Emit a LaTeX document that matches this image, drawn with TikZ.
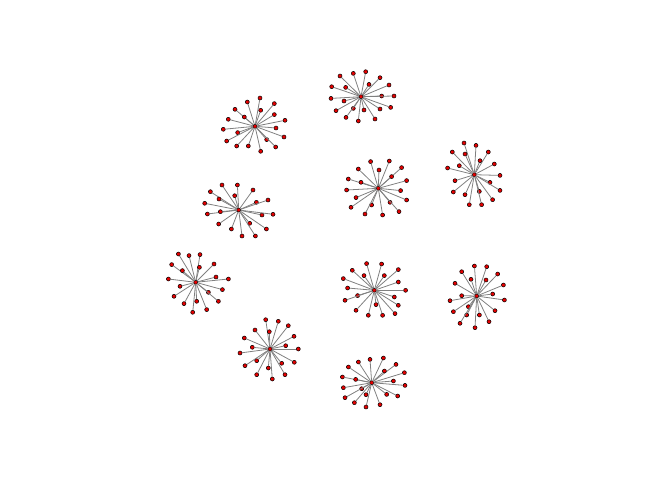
\documentclass[tikz,border=0pt]{standalone}
\usepackage{tikz}

\begin{document}
\begin{tikzpicture}[x=1pt,y=-1pt,v/.style={circle,draw=black,fill=red!90!black,line width=0.5pt,inner sep=0pt,minimum size=4pt},e/.style={draw=black!50,line width=0.8pt}]
\useasboundingbox (0,0) rectangle (672,480);
\foreach \n/\cx/\cy/\offs in {
 s1/361/96.7/{-21/-20.7,-7.7/-23.3,4.7/-25,19/-19,-29.3/-10,-15.3/-9.3,8/-12.3,28/-11.7,-30/1.7,-17/4.3,20.7/-0.7,33/-0.7,-25/14,-7.7/11.7,3/13.3,19/12.3,29.7/10.7,-15/20.7,-2.7/24.3,14/22.3},
 s2/255/126.3/{-7.7/-24.3,5/-28.3,19.3/-22.7,-20/-17,5.7/-16,19.3/-11.7,-10.7/-9.3,-26.7/-7,30/-6,-31.7/3,-17.3/6.3,21/1.7,29/10.7,-28.3/14.7,11.7/13.3,-18.3/19.7,-6.7/19.7,20.7/20.7,5.7/25},
 s3/474.3/174.7/{-10.3/-31.7,1.7/-29.3,-22/-22.7,-9.3/-20.7,14/-22.7,5.7/-14,20/-10.7,-26.7/-6.7,-15/-9,25.7/0.7,-19.3/6,15.7/7.7,25.7/15.7,-21/17.3,-9.3/20,5/16.7,18.3/25,-5/30,7.3/30},
 s4/378.3/188.3/{-7.7/-26.7,11/-27.3,-20/-19.3,0.7/-18.3,23.3/-20.7,13.3/-11.7,-30/-9.3,-17.3/-6,28.3/-7.7,-31.7/1.7,22.3/2.3,-22.3/9.3,28.3/11.7,-27.3/19,-6.7/16.7,11.7/14,20.7/23.3,-13.3/25.7,4.3/26.7},
 s5/238.7/210/{-16.7/-25,-1.3/-25,-28.3/-18.3,-19.7/-11,-4/-14.3,14.3/-20,-34/-6.7,17.7/-7.7,29.3/-10,-31.3/4,-18.3/1.7,23.3/5,34.3/4.3,-20/14,11/13.3,27.7/19,-7.3/19,3.3/26,16.7/26},
 s6/195.7/282.3/{-17.3/-28.3,-6.7/-26.7,4.3/-27.7,-24/-17.7,3.7/-15,18.3/-18.3,-13.3/-11.7,-27.3/-3.3,20.3/-5.3,32.7/-3.3,-15.7/4,26.7/7.3,12.7/10,-21.7/14,1/19,22.7/19,-11.7/21.3,11/27.3,-3/30},
 s7/374.3/290.3/{-7.7/-26.7,7.3/-26.3,-22/-20,-10.3/-14.7,10/-14.7,24/-20.7,-31/-11.7,24/-8.3,-26.7/-2.3,31.3/0,-16.7/5.3,20/6.7,-29.3/10,1.7/14.3,24/15,-18.3/20,-6/25,8.3/25,20.7/23.3},
 s8/476.7/296/{-2.3/-30,10/-29.3,-15/-24.3,21/-22,-5.7/-16.7,9.3/-16,-21.7/-12.7,26.7/-11,-15/-0.3,16/-2,-26.7/4.7,27.7/4,-8.3/10.7,18.3/14.7,-23.3/15.7,2.7/19,-10/19,-16.7/27.3,-1.7/31.7,12.3/25.7},
 s9/270/349/{-4.3/-29.3,8.3/-27.7,18.3/-23.3,-15/-19,-0.7/-17.3,24/-12.7,-25.7/-11,-17.7/-1.7,15.7/-3.3,28.3/0,-30/4,-13.3/11.7,24.3/13.3,-25/16.7,-1.7/19,11.7/14.3,-13.3/25.7,15/25.7,2.3/30},
 s10/371.7/382.7/{-13.3/-20.7,-1.7/-23.3,11.7/-24.7,-23.3/-15.7,24.3/-18.3,12.7/-11.7,-29.3/-5.7,-16/-3.3,32.7/-10,21.7/-1.7,-28.3/5,33.3/2.7,-10/6,-26.7/15,-5.7/12,15/11.7,26/13.3,-17.3/20,-5.7/24.3,8.3/22}}
{
\node[v] (\n) at (\cx,\cy) {};
\foreach \dx/\dy [count=\i] in \offs {
 \node[v] (\n-\i) at ([shift={(\dx,\dy)}]\n.center) {};
 \draw[e] (\n)--(\n-\i);
}
}
\end{tikzpicture}
\end{document}
